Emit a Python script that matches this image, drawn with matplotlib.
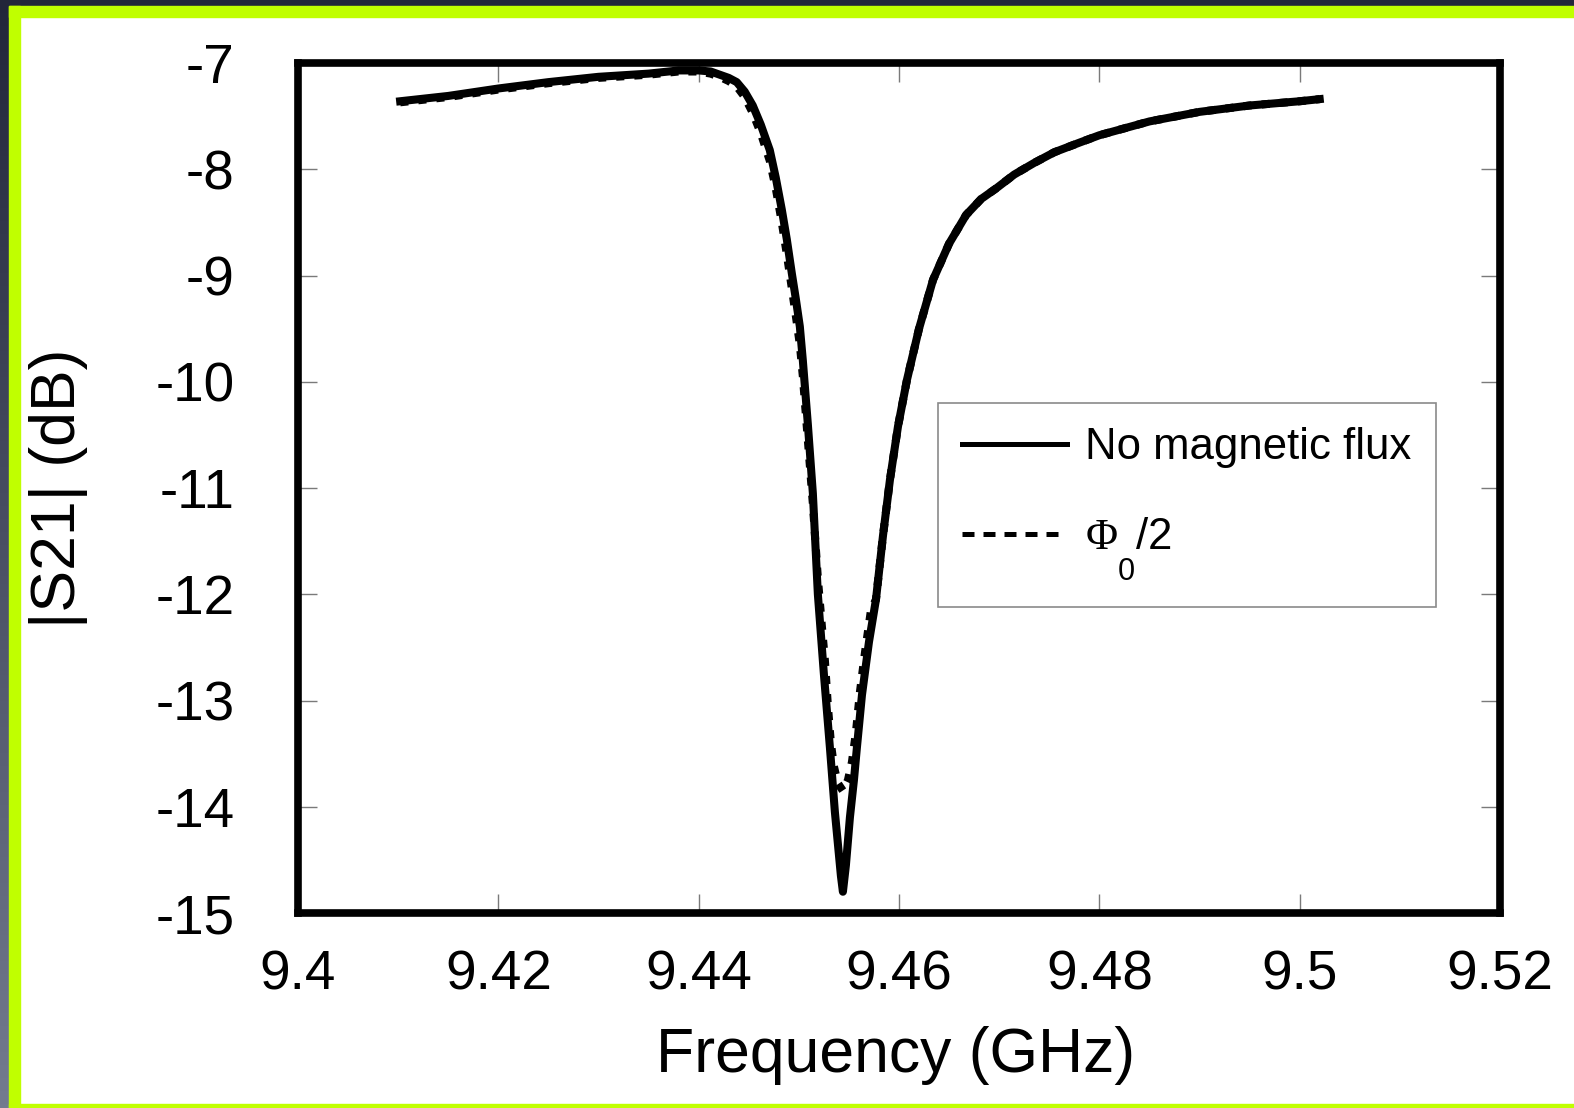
import matplotlib
matplotlib.use("Agg")
import matplotlib.pyplot as plt
import numpy as np
from matplotlib.lines import Line2D
from matplotlib.patches import Rectangle
from matplotlib.colors import LinearSegmentedColormap

plt.rcParams['font.family'] = ['Liberation Sans', 'DejaVu Sans']
plt.rcParams['mathtext.fontset'] = 'custom'
plt.rcParams['mathtext.rm'] = 'Liberation Serif'
plt.rcParams['mathtext.sf'] = 'Liberation Sans'

# Drop the flux-quantum subscript well below the baseline
try:
    import matplotlib._mathtext as _mt
    _mt.FontConstantsBase.sub1 = 1.3
except Exception:
    pass

# |S21| transmission, no applied flux
freq_no_flux = [9.4102, 9.4150, 9.4200, 9.4250, 9.4300, 9.4350, 9.4380, 9.4400,
                9.4412, 9.4421, 9.4430, 9.4438, 9.4446, 9.4454, 9.4462, 9.4471,
                9.4477, 9.4483, 9.4488, 9.4493, 9.4497, 9.4501, 9.4504, 9.4509,
                9.4514, 9.4519, 9.4525, 9.4531, 9.4536, 9.4540, 9.4542, 9.4544,
                9.4547, 9.4551, 9.4555, 9.4558, 9.4563, 9.4570, 9.4577, 9.4584,
                9.4591, 9.4599, 9.4608, 9.4620, 9.4634, 9.4650, 9.4667, 9.4682,
                9.4697, 9.4715, 9.4735, 9.4755, 9.4780, 9.4800, 9.4850, 9.4900,
                9.4950, 9.5000, 9.5020]
s21_no_flux = [-7.36, -7.31, -7.24, -7.18, -7.13, -7.10, -7.07, -7.07,
               -7.08, -7.11, -7.14, -7.18, -7.27, -7.40, -7.58, -7.82,
               -8.08, -8.38, -8.66, -8.98, -9.22, -9.48, -9.80, -10.40,
               -11.05, -12.00, -12.75, -13.44, -14.05, -14.45, -14.65, -14.80,
               -14.55, -14.10, -13.75, -13.44, -12.95, -12.45, -12.05, -11.45,
               -10.92, -10.42, -9.98, -9.50, -9.04, -8.70, -8.43, -8.28,
               -8.18, -8.05, -7.94, -7.84, -7.75, -7.68, -7.55, -7.46,
               -7.40, -7.36, -7.34]

# |S21| transmission at half flux quantum
freq_half_flux = [9.4102, 9.4150, 9.4200, 9.4250, 9.4300, 9.4350, 9.4380, 9.4400,
                  9.4412, 9.4421, 9.4430, 9.4438, 9.4446, 9.4454, 9.4462, 9.4471,
                  9.4477, 9.4483, 9.4488, 9.4493, 9.4497, 9.4501, 9.4504, 9.4509,
                  9.4514, 9.4519, 9.4523, 9.4526, 9.4529, 9.4532, 9.4535, 9.4539,
                  9.4544, 9.4549, 9.4553, 9.4557, 9.4561, 9.4566, 9.4572, 9.4577,
                  9.4584, 9.4591, 9.4599, 9.4608, 9.4620, 9.4634, 9.4650, 9.4667,
                  9.4682, 9.4697, 9.4715, 9.4735, 9.4755, 9.4780, 9.4800, 9.4850,
                  9.4900, 9.4950, 9.5000, 9.5020]
s21_half_flux = [-7.37, -7.32, -7.25, -7.19, -7.14, -7.11, -7.08, -7.08,
                 -7.10, -7.13, -7.17, -7.22, -7.32, -7.47, -7.66, -7.92,
                 -8.18, -8.50, -8.80, -9.12, -9.38, -9.65, -9.95, -10.55,
                 -11.15, -11.85, -12.30, -12.62, -13.05, -13.40, -13.62, -13.78,
                 -13.85, -13.75, -13.58, -13.30, -12.92, -12.55, -12.15, -12.05,
                 -11.45, -10.92, -10.42, -9.98, -9.50, -9.04, -8.70, -8.43,
                 -8.28, -8.18, -8.05, -7.94, -7.84, -7.75, -7.68, -7.55,
                 -7.46, -7.40, -7.36, -7.34]

x_ticks = [9.4, 9.42, 9.44, 9.46, 9.48, 9.5, 9.52]
x_ticklabels = ['9.4', '9.42', '9.44', '9.46', '9.48', '9.5', '9.52']
y_ticks = [-15, -14, -13, -12, -11, -10, -9, -8, -7]
y_ticklabels = ['-15', '-14', '-13', '-12', '-11', '-10', '-9', '-8', '-7']

W, H = 1574, 1108
fig = plt.figure(figsize=(W / 100, H / 100), dpi=100)
fig.patch.set_facecolor('white')

# Decorative page border
bg = fig.add_axes([0, 0, 1, 1], zorder=-10)
grad = LinearSegmentedColormap.from_list('edge', ['#22263a', '#737b8f'])
bg.imshow(np.linspace(0, 1, 256).reshape(-1, 1), cmap=grad, aspect='auto',
          extent=(0, 10, H, 0), zorder=0)
bg.add_patch(Rectangle((0, 0), W, 6.5, color='#22263a', zorder=1))
lime = '#c0ff00'
bg.add_patch(Rectangle((9, 6), W, 10.5, color=lime, zorder=2))
bg.add_patch(Rectangle((9, 6), 11, H, color=lime, zorder=2))
bg.add_patch(Rectangle((9, 1104), W, 5, color=lime, zorder=2))
bg.set_xlim(0, W)
bg.set_ylim(H, 0)
bg.axis('off')

# Main axes, placed in pixel terms
left, right, top, bottom = 298, 1500, 63, 913
ax = fig.add_axes([left / W, (H - bottom) / H, (right - left) / W, (bottom - top) / H])

ax.plot(freq_half_flux, s21_half_flux, color='black', lw=5.8,
        dashes=(1.0, 1.25), solid_capstyle='butt', zorder=2)
ax.plot(freq_no_flux, s21_no_flux, color='black', lw=5.8,
        solid_joinstyle='round', zorder=3)

ax.set_xlim(9.4, 9.52)
ax.set_ylim(-15, -7)
ax.set_xticks(x_ticks)
ax.set_xticklabels(x_ticklabels)
ax.set_yticks(y_ticks)
ax.set_yticklabels(y_ticklabels)

for sp in ax.spines.values():
    sp.set_linewidth(5.5)
    sp.set_color('black')

ax.tick_params(axis='both', which='major', direction='in', length=14, width=1.0,
               color='#7a7a7a', top=True, right=True, labelsize=39.5)
ax.tick_params(axis='x', pad=26)
ax.tick_params(axis='y', pad=45.5)

ax.set_xlabel('Frequency (GHz)', fontsize=45)
ax.set_ylabel('|S21| (dB)', fontsize=45)
ax.xaxis.set_label_coords(0.4975, -0.133)
ax.yaxis.set_label_coords(-0.175, 0.5)

handles = [Line2D([], [], color='black', lw=3.6),
           Line2D([], [], color='black', lw=3.6, dashes=(2.4, 1.8))]
labels = ['No magnetic flux', r'$\Phi_{\mathsf{0}}$/2']
leg = ax.legend(handles, labels, loc='upper left',
                bbox_to_anchor=((938 - left) / (right - left), (bottom - 403) / (bottom - top)),
                bbox_transform=ax.transAxes, borderaxespad=0, fontsize=31.5,
                handlelength=2.4, handletextpad=0.42, borderpad=0.55,
                labelspacing=1.08, fancybox=False, framealpha=1)
leg.get_frame().set_edgecolor('#8a8a8a')
leg.get_frame().set_linewidth(1.2)

fig.savefig('out.png', dpi=100, facecolor=fig.get_facecolor())
